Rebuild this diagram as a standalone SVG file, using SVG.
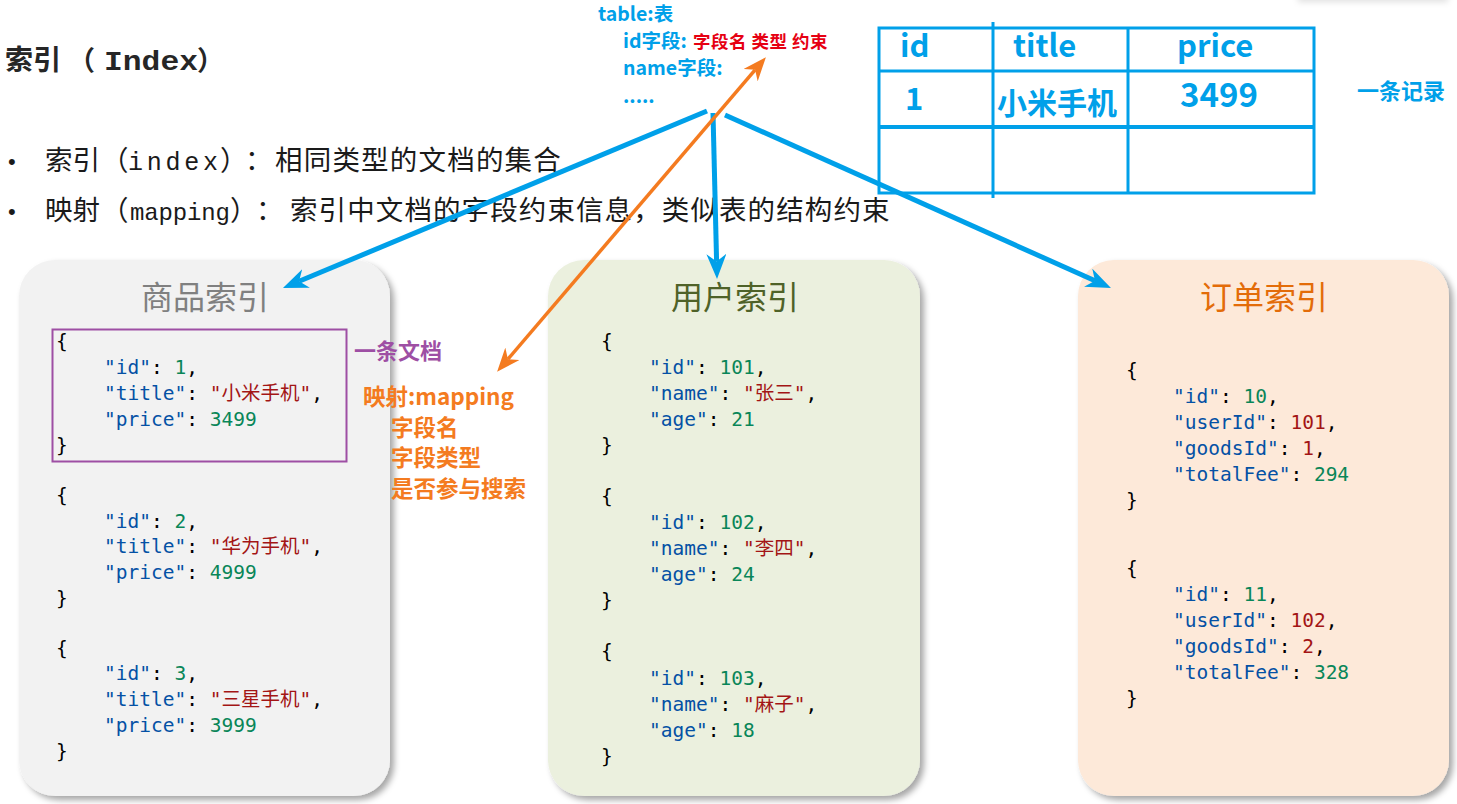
<svg xmlns="http://www.w3.org/2000/svg" width="1457" height="804" viewBox="0 0 1457 804">
<style>
.cjk{font-family:"Noto Sans CJK SC","Noto Sans",sans-serif}
.mono{font-family:"Liberation Mono","DejaVu Sans Mono",monospace}
.code{font-family:"DejaVu Sans Mono","Noto Sans CJK SC",monospace;font-size:19.5px;fill:#000;white-space:pre}
.k{fill:#0451a5}.s{fill:#a31515}.n{fill:#098658}
.blue{fill:#00a0e9}
.tb{fill:#00a0e9;font-weight:bold}
.bl{stroke:#00a0e9;stroke-width:5;fill:none;marker-end:url(#ab)}
.or{stroke:#f47b20;stroke-width:3.5;fill:none;marker-start:url(#ao);marker-end:url(#ao)}
.tl{stroke:#00a0e9;stroke-width:3;fill:none}
.btitle{font-size:32px;text-anchor:middle}
.orange{fill:#f47b20;font-weight:bold;font-size:22.5px}
</style>
<defs>
<filter id="sh" x="-10%" y="-10%" width="125%" height="125%">
<feDropShadow dx="4" dy="4" stdDeviation="3" flood-color="#000" flood-opacity="0.35"/>
</filter>
<filter id="sh2" x="-20%" y="-100%" width="140%" height="400%">
<feDropShadow dx="0" dy="2" stdDeviation="3" flood-color="#000" flood-opacity="0.12"/>
</filter>
<marker id="ab" viewBox="0 0 10 8" refX="3" refY="4" markerWidth="25" markerHeight="20" markerUnits="userSpaceOnUse" orient="auto">
<path d="M0,0 L10,4 L0,8 L3,4 z" fill="#00a0e9"/>
</marker>
<marker id="ao" viewBox="0 0 10 8" refX="3" refY="4" markerWidth="24" markerHeight="19" markerUnits="userSpaceOnUse" orient="auto-start-reverse">
<path d="M0,0 L10,4 L0,8 L3,4 z" fill="#f47b20"/>
</marker>
</defs>
<rect width="1457" height="804" fill="#fff"/>
<rect x="1298" y="-30" width="150" height="30" fill="#fff" filter="url(#sh2)"/>

<!-- heading -->
<g id="heading" fill="#262626" font-weight="bold">
<text class="cjk" x="5" y="70" font-size="28">索引</text>
<text class="cjk" x="68" y="70" font-size="27">（</text>
<text class="mono" x="104" y="70" font-size="28" textLength="94" lengthAdjust="spacingAndGlyphs">Index</text>
<text class="cjk" x="197" y="70" font-size="27">）</text>
</g>

<!-- bullets -->
<g id="bullets" fill="#1a1a1a">
<text x="8" y="169" font-family="Liberation Sans,sans-serif" font-size="22">•</text>
<text class="cjk" x="45" y="170" font-size="27.5">索引</text>
<text class="cjk" x="101" y="170" font-size="27.5">（</text>
<text class="mono" x="128" y="170" font-size="25" textLength="90" lengthAdjust="spacing">index</text>
<text class="cjk" x="220" y="170" font-size="27.5">）</text>
<text class="cjk" x="245" y="170" font-size="27.5">：</text>
<text class="cjk" x="275" y="170" font-size="27.5" letter-spacing="1.2">相同类型的文档的集合</text>
<text x="8" y="219" font-family="Liberation Sans,sans-serif" font-size="22">•</text>
<text class="cjk" x="45" y="220" font-size="27.5">映射</text>
<text class="cjk" x="101" y="220" font-size="27.5">（</text>
<text class="mono" x="130" y="220" font-size="24" textLength="100" lengthAdjust="spacing">mapping</text>
<text class="cjk" x="230" y="220" font-size="27.5">）</text>
<text class="cjk" x="256" y="220" font-size="27.5">：</text>
<text class="cjk" x="290" y="220" font-size="27.5" letter-spacing="1.1">索引中文档的字段约束信息，类似表的结构约束</text>
</g>

<!-- table notes -->
<g id="table-note" class="cjk" font-weight="bold">
<text class="blue" x="598" y="21" font-size="19.5">table:表</text>
<text class="blue" x="623" y="48" font-size="19.5">id字段:</text>
<text x="693" y="48" font-size="17.5" fill="#e60012" letter-spacing="0.5">字段名 类型 约束</text>
<text class="blue" x="623" y="75" font-size="19.5">name字段:</text>
<text class="blue" x="623" y="103" font-size="19.5">.....</text>
</g>

<!-- table -->
<g id="table">
<path class="tl" d="M879,28 H1314 V193 H879 Z M879,71 H1314 M993,22 V198 M1128,28 V193"/>
<path d="M880,127 H1314" stroke="#00a0e9" stroke-width="4"/>
<g class="cjk tb">
<text x="900" y="57" font-size="31">id</text>
<text x="1013" y="57" font-size="31">title</text>
<text x="1177" y="57" font-size="31">price</text>
<text x="905" y="110" font-size="31">1</text>
<text x="997" y="114" font-size="30">小米手机</text>
<text x="1180" y="107" font-size="33">3499</text>
</g>
<text class="cjk tb" x="1357" y="99" font-size="22">一条记录</text>
</g>

<!-- goods index -->
<g id="goods-index">
<rect x="19" y="260" width="371" height="536" rx="36" fill="#f2f2f2" filter="url(#sh)"/>
<text class="cjk btitle" x="205" y="309" fill="#808080">商品索引</text>
<rect x="52.5" y="329.5" width="294" height="132" fill="none" stroke="#9e4fa4" stroke-width="2"/>
<text class="code" x="56" y="348">{</text>
<text class="code" x="104" y="374"><tspan class="k">"id"</tspan>: <tspan class="n">1</tspan>,</text>
<text class="code" x="104" y="400"><tspan class="k">"title"</tspan>: <tspan class="s">"小米手机"</tspan>,</text>
<text class="code" x="104" y="426"><tspan class="k">"price"</tspan>: <tspan class="n">3499</tspan></text>
<text class="code" x="56" y="452">}</text>
<text class="code" x="56" y="502">{</text>
<text class="code" x="104" y="528"><tspan class="k">"id"</tspan>: <tspan class="n">2</tspan>,</text>
<text class="code" x="104" y="553"><tspan class="k">"title"</tspan>: <tspan class="s">"华为手机"</tspan>,</text>
<text class="code" x="104" y="579"><tspan class="k">"price"</tspan>: <tspan class="n">4999</tspan></text>
<text class="code" x="56" y="605">}</text>
<text class="code" x="56" y="655">{</text>
<text class="code" x="104" y="680"><tspan class="k">"id"</tspan>: <tspan class="n">3</tspan>,</text>
<text class="code" x="104" y="706"><tspan class="k">"title"</tspan>: <tspan class="s">"三星手机"</tspan>,</text>
<text class="code" x="104" y="732"><tspan class="k">"price"</tspan>: <tspan class="n">3999</tspan></text>
<text class="code" x="56" y="758">}</text>
</g>
<text id="doc-label" class="cjk" x="354" y="359" font-size="22" font-weight="bold" fill="#9e4fa4">一条文档</text>

<!-- mapping note -->
<g id="mapping-note" class="cjk orange">
<text x="363" y="405">映射:mapping</text>
<text x="391" y="436">字段名</text>
<text x="391" y="466">字段类型</text>
<text x="391" y="497">是否参与搜索</text>
</g>

<!-- user index -->
<g id="user-index">
<rect x="548" y="260" width="372" height="536" rx="36" fill="#ebf0de" filter="url(#sh)"/>
<text class="cjk btitle" x="735" y="309" fill="#4f6228">用户索引</text>
<text class="code" x="601" y="348">{</text>
<text class="code" x="649" y="374"><tspan class="k">"id"</tspan>: <tspan class="n">101</tspan>,</text>
<text class="code" x="649" y="400"><tspan class="k">"name"</tspan>: <tspan class="s">"张三"</tspan>,</text>
<text class="code" x="649" y="426"><tspan class="k">"age"</tspan>: <tspan class="n">21</tspan></text>
<text class="code" x="601" y="452">}</text>
<text class="code" x="601" y="503">{</text>
<text class="code" x="649" y="529"><tspan class="k">"id"</tspan>: <tspan class="n">102</tspan>,</text>
<text class="code" x="649" y="555"><tspan class="k">"name"</tspan>: <tspan class="s">"李四"</tspan>,</text>
<text class="code" x="649" y="581"><tspan class="k">"age"</tspan>: <tspan class="n">24</tspan></text>
<text class="code" x="601" y="607">}</text>
<text class="code" x="601" y="658">{</text>
<text class="code" x="649" y="685"><tspan class="k">"id"</tspan>: <tspan class="n">103</tspan>,</text>
<text class="code" x="649" y="711"><tspan class="k">"name"</tspan>: <tspan class="s">"麻子"</tspan>,</text>
<text class="code" x="649" y="737"><tspan class="k">"age"</tspan>: <tspan class="n">18</tspan></text>
<text class="code" x="601" y="763">}</text>
</g>

<!-- order index -->
<g id="order-index">
<rect x="1078" y="260" width="371" height="536" rx="36" fill="#fde9d9" filter="url(#sh)"/>
<text class="cjk btitle" x="1264" y="309" fill="#e36c09">订单索引</text>
<text class="code" x="1126" y="377">{</text>
<text class="code" x="1173" y="403"><tspan class="k">"id"</tspan>: <tspan class="n">10</tspan>,</text>
<text class="code" x="1173" y="429"><tspan class="k">"userId"</tspan>: <tspan class="s">101</tspan>,</text>
<text class="code" x="1173" y="455"><tspan class="k">"goodsId"</tspan>: <tspan class="s">1</tspan>,</text>
<text class="code" x="1173" y="481"><tspan class="k">"totalFee"</tspan>: <tspan class="n">294</tspan></text>
<text class="code" x="1126" y="507">}</text>
<text class="code" x="1126" y="575">{</text>
<text class="code" x="1173" y="601"><tspan class="k">"id"</tspan>: <tspan class="n">11</tspan>,</text>
<text class="code" x="1173" y="627"><tspan class="k">"userId"</tspan>: <tspan class="s">102</tspan>,</text>
<text class="code" x="1173" y="653"><tspan class="k">"goodsId"</tspan>: <tspan class="s">2</tspan>,</text>
<text class="code" x="1173" y="679"><tspan class="k">"totalFee"</tspan>: <tspan class="n">328</tspan></text>
<text class="code" x="1126" y="705">}</text>
</g>

<!-- connectors -->
<g id="connectors">
<path class="bl" d="M707,111 L299.1,281.3"/>
<path class="bl" d="M713,113 L716.6,261.5"/>
<path class="bl" d="M725,115 L1095,280.8"/>
<path class="or" d="M507.9,359.2 L755.1,69.8"/>
</g>
</svg>
